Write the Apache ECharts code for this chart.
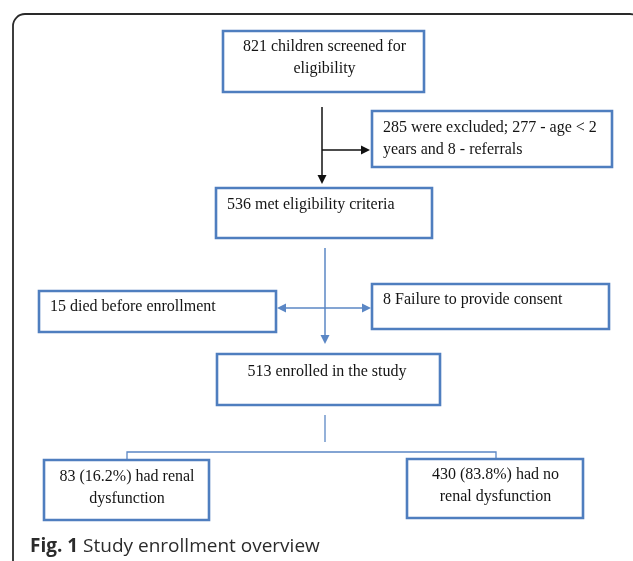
<!DOCTYPE html>
<html>
<head>
<meta charset="utf-8">
<script src="https://cdn.jsdelivr.net/npm/echarts@6/dist/echarts.min.js"></script>
<style>html,body{margin:0;padding:0;background:#fff}#c{width:633px;height:561px}</style>
</head>
<body>
<div id="c"></div>
<script>
// Texts of the flowchart boxes (data)
const boxTexts = [
  "821 children screened for\neligibility",
  "285 were excluded; 277 - age < 2\nyears and 8 - referrals",
  "536 met eligibility criteria",
  "15 died before enrollment",
  "8 Failure to provide consent",
  "513 enrolled in the study",
  "83 (16.2%) had renal\ndysfunction",
  "430 (83.8%) had no\nrenal dysfunction"
];
const captionBold = "Fig. 1";
const captionText = "Study enrollment overview";

// Layout (positions in chart-value space, pixel-like 633 x 561)
const boxLayout = [
  {r:[223,31,424,92],  t:[324.5,47], a:'center'},
  {r:[372,111,612,167], t:[383,128], a:'left'},
  {r:[216,188,432,238], t:[227,205], a:'left'},
  {r:[39,291,276,332],  t:[50,307],  a:'left'},
  {r:[372,284,609,329], t:[383,300], a:'left'},
  {r:[217,354,440,405], t:[327,372], a:'center'},
  {r:[44,460,209,520],  t:[127,477], a:'center'},
  {r:[407,459,583,518], t:[495.5,475], a:'center'}
];
const connectors = [
  {p:[[322,107],[322,184]], c:'#111', arrow:true, w:1.5},
  {p:[[322,150],[370,150]], c:'#111', arrow:true, w:1.5},
  {p:[[325,248],[325,344]], c:'#5b87c5', arrow:true, w:1.5},
  {p:[[325,308],[277,308]], c:'#5b87c5', arrow:true, w:1.5},
  {p:[[325,308],[371,308]], c:'#5b87c5', arrow:true, w:1.5},
  {p:[[325,415],[325,442]], c:'#5b87c5', arrow:false, w:1.3},
  {p:[[127,460],[127,452],[496,452],[496,459]], c:'#5b87c5', arrow:false, w:1.3}
];
const frameRect = [13,14,642,620];

const chart = echarts.init(document.getElementById('c'), null, {renderer:'canvas'});

function boxItem(params, api) {
  const i = api.value(0);
  const L = boxLayout[i];
  const p0 = api.coord([L.r[0], L.r[1]]);
  const p1 = api.coord([L.r[2], L.r[3]]);
  const tp = api.coord([L.t[0], L.t[1]]);
  const lh = 21.5;
  return {
    type: 'group',
    children: [
      {type:'rect', shape:{x:p0[0], y:p0[1], width:p1[0]-p0[0], height:p1[1]-p0[1]},
       style:{fill:'#fff', stroke:'#4f7ebf', lineWidth:2.6}},
      {type:'text', x: tp[0], y: tp[1] - lh/2,
       style:{text: boxTexts[i], font:'16px "Liberation Serif", "Times New Roman", serif',
              fill:'#141414', align:L.a, verticalAlign:'top', lineHeight:lh}}
    ]
  };
}

function connItem(params, api) {
  const i = api.value(0);
  const C = connectors[i];
  const pts = C.p.map(q => api.coord(q));
  const children = [];
  let end = pts[pts.length-1];
  const prev = pts[pts.length-2];
  let linePts = pts.slice();
  if (C.arrow) {
    const dx = end[0]-prev[0], dy = end[1]-prev[1];
    const len = Math.hypot(dx,dy);
    const ux = dx/len, uy = dy/len;
    const hl = C.c === '#111' ? 9 : 9, hw = C.c === '#111' ? 4.5 : 4.5;
    const base = [end[0]-ux*hl, end[1]-uy*hl];
    linePts[linePts.length-1] = [end[0]-ux*(hl-1), end[1]-uy*(hl-1)];
    children.push({type:'polygon', shape:{points:[end,[base[0]-uy*hw, base[1]+ux*hw],[base[0]+uy*hw, base[1]-ux*hw]]},
      style:{fill:C.c}});
  }
  children.unshift({type:'polyline', shape:{points:linePts}, style:{stroke:C.c, lineWidth:C.w, fill:null}});
  return {type:'group', children};
}

function frameItem(params, api) {
  const p0 = api.coord([frameRect[0], frameRect[1]]);
  const p1 = api.coord([frameRect[2], frameRect[3]]);
  return {type:'rect', shape:{x:p0[0], y:p0[1], width:p1[0]-p0[0], height:p1[1]-p0[1], r:12},
    style:{fill:null, stroke:'#2a2a2a', lineWidth:1.8}};
}

chart.setOption({
  animation:false,
  backgroundColor:'#fff',
  title:{
    text:'{b|' + captionBold + '} ' + captionText,
    left:30, top:537, padding:0,
    textStyle:{fontFamily:'"Open Sans"', fontSize:19, fontWeight:'normal', color:'#2b2b2b',
      rich:{b:{fontFamily:'"Open Sans"', fontSize:19, fontWeight:'bold', color:'#2b2b2b'}}}
  },
  grid:{left:0, right:0, top:0, bottom:0},
  xAxis:{type:'value', min:0, max:633, show:false},
  yAxis:{type:'value', min:0, max:561, inverse:true, show:false},
  series:[
    {type:'custom', coordinateSystem:'cartesian2d', renderItem:frameItem, data:[[0]], silent:true, clip:false, z:1},
    {type:'custom', coordinateSystem:'cartesian2d', renderItem:connItem, data:connectors.map((c,i)=>[i]), silent:true, z:2},
    {type:'custom', coordinateSystem:'cartesian2d', renderItem:boxItem, data:boxTexts.map((t,i)=>[i]), silent:true, z:3}
  ]
});
</script>
</body>
</html>
